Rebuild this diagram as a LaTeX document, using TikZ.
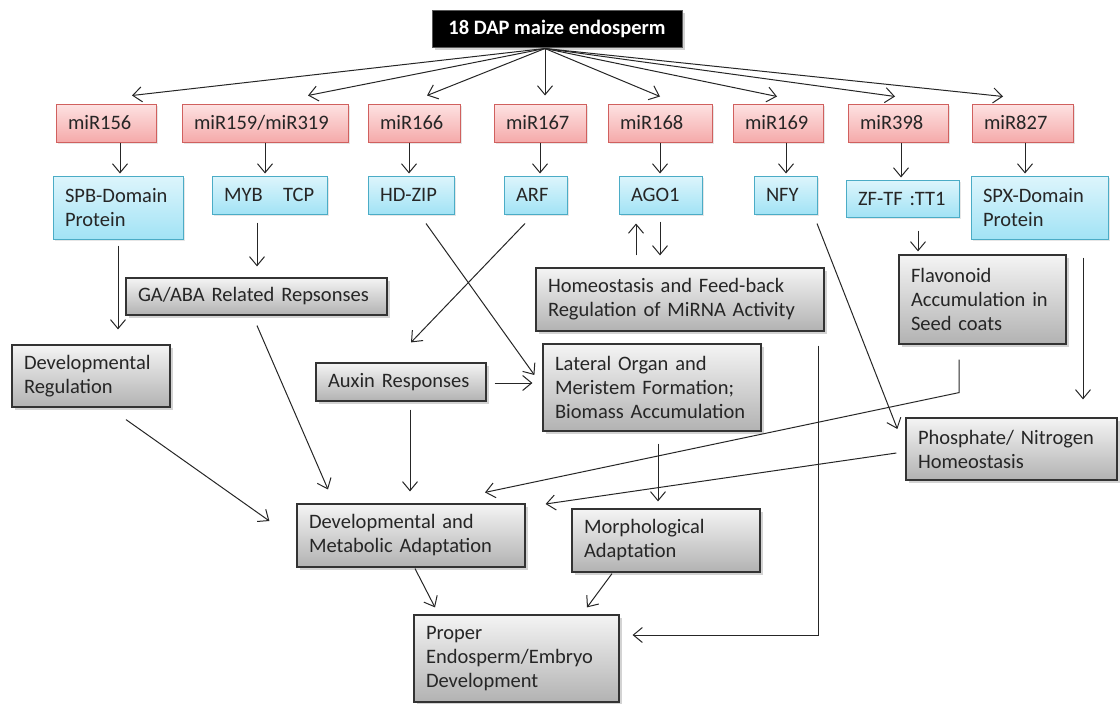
\documentclass[tikz,border=0pt]{standalone}
\usepackage{fontspec}
\setmainfont{Carlito}
\usetikzlibrary{arrows.meta,calc,shadows}
\definecolor{pinktop}{HTML}{FDE2E2}
\definecolor{pinkbot}{HTML}{F5AAAA}
\definecolor{pinkline}{HTML}{D0605E}
\definecolor{bluetop}{HTML}{DDF5FC}
\definecolor{bluebot}{HTML}{A2E3F5}
\definecolor{blueline}{HTML}{4BACC6}
\definecolor{graytop}{HTML}{F4F4F4}
\definecolor{graybot}{HTML}{B2B2B2}
\definecolor{grayline}{HTML}{333333}
\definecolor{arrowc}{HTML}{262626}
\definecolor{txt}{HTML}{262626}
\begin{document}
\begin{tikzpicture}[x=1pt,y=-1pt,
  box/.style={font=\fontsize{20.5}{24}\selectfont, text=txt, inner xsep=12pt, inner ysep=0pt, align=left, line width=1pt},
  pinkbox/.style={box, draw=pinkline, top color=pinktop, bottom color=pinkbot,
    drop shadow={shadow xshift=2pt,shadow yshift=-2pt,opacity=0.2}},
  bluebox/.style={box, draw=blueline, top color=bluetop, bottom color=bluebot,
    drop shadow={shadow xshift=2pt,shadow yshift=-2pt,opacity=0.2}},
  graybox/.style={box, draw=grayline, top color=graytop, bottom color=graybot, line width=1.2pt,
    drop shadow={shadow xshift=3pt,shadow yshift=-3pt,opacity=0.35}},
  topbox/.style={font=\fontsize{20.5}{24}\selectfont\bfseries, text=white, fill=black, draw=black!65, line width=1pt, inner sep=0pt,
    drop shadow={shadow xshift=3pt,shadow yshift=-3pt,opacity=0.35}},
  arr/.style={draw=arrowc, line width=1pt, -{Straight Barb[length=9pt,width=15pt]}}
]
\useasboundingbox (0,0) rectangle (1120,704);

% top
\node[topbox, minimum width=250pt, minimum height=37pt] (top) at (557,28.5) {18 DAP maize endosperm};

% miRNA row
\node[pinkbox, minimum width=100pt, text width=76pt, minimum height=38pt] (m156) at (106,123) {miR156};
\node[pinkbox, minimum width=166pt, text width=142pt, minimum height=38pt] (m159) at (265,123) {miR159/miR319};
\node[pinkbox, minimum width=92pt, text width=68pt, minimum height=38pt] (m166) at (414,123) {miR166};
\node[pinkbox, minimum width=92pt, text width=68pt, minimum height=38pt] (m167) at (540,123) {miR167};
\node[pinkbox, minimum width=104pt, text width=80pt, minimum height=38pt] (m168) at (660,123) {miR168};
\node[pinkbox, minimum width=90pt, text width=66pt, minimum height=38pt] (m169) at (778,123) {miR169};
\node[pinkbox, minimum width=100pt, text width=76pt, minimum height=38pt] (m398) at (898,123) {miR398};
\node[pinkbox, minimum width=101pt, text width=77pt, minimum height=38pt] (m827) at (1022.5,123) {miR827};

% targets row
\node[bluebox, minimum width=130pt, text width=106pt, minimum height=63pt] (spb) at (118,207.5) {SPB-Domain\\Protein};
\node[bluebox, minimum width=115pt, text width=91pt, minimum height=38pt] (myb) at (269.5,195) {MYB\ \ \ TCP};
\node[bluebox, minimum width=86pt, text width=62pt, minimum height=38pt] (hdzip) at (411,195) {HD-ZIP};
\node[bluebox, minimum width=63pt, text width=39pt, minimum height=38pt] (arf) at (535.5,195) {ARF};
\node[bluebox, minimum width=83pt, text width=59pt, minimum height=38pt] (ago1) at (660.5,195) {AGO1};
\node[bluebox, minimum width=63pt, text width=39pt, minimum height=38pt] (nfy) at (785.5,195) {NFY};
\node[bluebox, minimum width=113pt, text width=89pt, minimum height=37pt] (zftf) at (902.5,198.5) {ZF-TF :TT1};
\node[bluebox, minimum width=137pt, text width=113pt, minimum height=63pt] (spx) at (1039.5,207.5) {SPX-Domain\\Protein};

% responses
\node[graybox, minimum width=261pt, text width=237pt, minimum height=37pt] (gaaba) at (256.5,296.5) {GA/ABA Related Repsonses};
\node[graybox, minimum width=158pt, text width=134pt, minimum height=62pt] (devreg) at (91,376) {Developmental\\Regulation};
\node[graybox, minimum width=170pt, text width=146pt, minimum height=38pt] (auxin) at (401,382) {Auxin Responses};
\node[graybox, minimum width=288pt, text width=264pt, minimum height=63pt] (homeo) at (680,299.5) {Homeostasis and Feed-back\\Regulation of MiRNA Activity};
\node[graybox, minimum width=218pt, text width=194pt, minimum height=87pt] (lateral) at (652,387.5) {Lateral Organ and\\Meristem Formation;\\Biomass Accumulation};
\node[graybox, minimum width=167pt, text width=143pt, minimum height=89pt] (flav) at (982.5,299.5) {Flavonoid\\Accumulation in\\Seed coats};
\node[graybox, minimum width=211pt, text width=187pt, minimum height=62pt] (phos) at (1011.5,449) {Phosphate/ Nitrogen\\Homeostasis};
\node[graybox, minimum width=228pt, text width=204pt, minimum height=63pt] (devmet) at (411,535.5) {Developmental and\\Metabolic Adaptation};
\node[graybox, minimum width=188pt, text width=164pt, minimum height=63pt] (morph) at (666,540.5) {Morphological\\Adaptation};
\node[graybox, minimum width=205pt, text width=181pt, minimum height=87pt] (proper) at (516.5,658.5) {Proper\\Endosperm/Embryo\\Development};

% fan from top
\draw[arr] ($(top.south)+(-12,1)$) -- ($(m156.north)+(26,-8)$);
\draw[arr] ($(top.south)+(-12,1)$) -- ($(m159.north)+(43,-8)$);
\draw[arr] ($(top.south)+(-12,1)$) -- ($(m166.north)+(13,-8)$);
\draw[arr] ($(top.south)+(-12,1)$) -- ($(m167.north)+(5,-8)$);
\draw[arr] ($(top.south)+(-12,1)$) -- ($(m168.north)+(0,-7)$);
\draw[arr] ($(top.south)+(-12,1)$) -- ($(m169.north)+(-1,-7)$);
\draw[arr] ($(top.south)+(-12,1)$) -- ($(m398.north)+(-3,-7)$);
\draw[arr] ($(top.south)+(-12,1)$) -- ($(m827.north)+(-19.5,-7)$);

% miRNA -> targets
\draw[arr] ($(m156.south)+(14,0)$) -- ($(spb.north)+(2,-2)$);
\draw[arr] ($(m159.south)+(0,0)$) -- ($(myb.north)+(-4.5,-2)$);
\draw[arr] ($(m166.south)+(-5,0)$) -- ($(hdzip.north)+(-2,-2)$);
\draw[arr] ($(m167.south)+(0,0)$) -- ($(arf.north)+(4.5,-2)$);
\draw[arr] ($(m168.south)+(0,0)$) -- ($(ago1.north)+(-0.5,-2)$);
\draw[arr] ($(m169.south)+(8,0)$) -- ($(nfy.north)+(0.5,-2)$);
\draw[arr] ($(m398.south)+(3,0)$) -- ($(zftf.north)+(-1.5,-2)$);
\draw[arr] ($(m827.south)+(2.5,0)$) -- ($(spx.north)+(-14.5,-2)$);

% lower connectors
\draw[arr] ($(spb.south)+(0,6)$) -- ($(devreg.north)+(27,-15)$);
\draw[arr] ($(myb.south)+(-12.5,8)$) -- ($(gaaba.north)+(0.5,-11)$);
\draw[arr] ($(gaaba.south)+(0.5,10)$) -- ($(devmet.north)+(-83,-14)$);
\draw[arr] ($(devreg.south)+(35,12)$) -- ($(devmet.west)+(-27,-14.5)$);
\draw[arr] ($(hdzip.south)+(15,9)$) -- ($(lateral.west)+(-8,-12.5)$);
\draw[arr] ($(arf.south)+(-10.5,9)$) -- ($(auxin.north)+(10,-20)$);
\draw[arr] ($(auxin.east)+(8,1)$) -- ($(lateral.west)+(-10,-4.5)$);
\draw[arr] ($(auxin.south)+(9,8)$) -- ($(devmet.north)+(-1,-12)$);
\draw[arr] ($(homeo.north)+(-44,-12)$) -- ($(ago1.south)+(-24.5,9)$);
\draw[arr] ($(ago1.south)+(-0.5,7)$) -- ($(homeo.north)+(-20,-12)$);
\draw[arr] ($(homeo.south)+(138,14)$) |- ($(proper.east)+(13,-23.5)$);
\draw[arr] ($(nfy.south)+(31.5,9)$) -- ($(phos.west)+(-8,-20)$);
\draw[arr] ($(zftf.south)+(15.5,13)$) -- ($(flav.north)+(-64.5,-3)$);
\draw[arr] ($(spx.south)+(43.5,18)$) -- ($(phos.north)+(71.5,-18)$);
\draw[arr] ($(flav.south)+(-23.5,15)$) -- ($(flav.south)+(-23.5,48)$) -- ($(devmet.north)+(74,-11)$);
\draw[arr] ($(phos.west)+(-9,4)$) -- ($(devmet.east)+(20,-31.5)$);
\draw[arr] ($(lateral.south)+(6,12)$) -- ($(morph.north)+(-8,-7)$);
\draw[arr] ($(devmet.south)+(4,1)$) -- ($(proper.north)+(-81.5,-7)$);
\draw[arr] ($(morph.south)+(-54,1)$) -- ($(proper.north)+(70.5,-7)$);
\end{tikzpicture}
\end{document}
